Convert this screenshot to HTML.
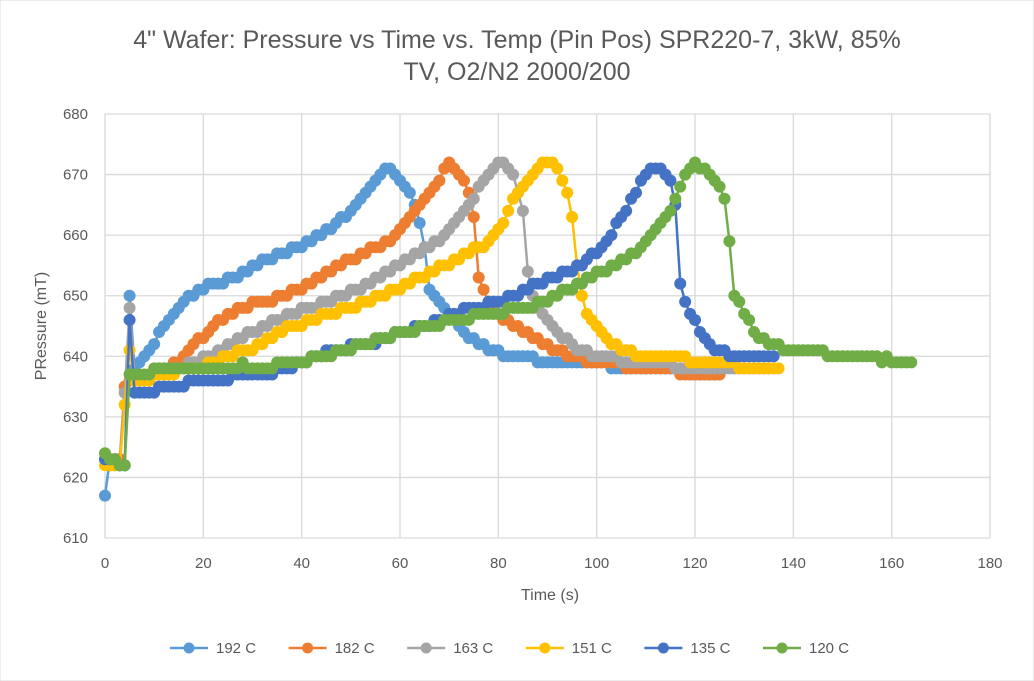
<!DOCTYPE html>
<html><head><meta charset="utf-8"><style>
html,body{margin:0;padding:0;background:#fff;}
svg{display:block;font-family:"Liberation Sans",Arial,sans-serif;}
</style></head><body>
<svg id="chart" width="1034" height="681" viewBox="0 0 1034 681" xmlns="http://www.w3.org/2000/svg">
<rect x="0" y="0" width="1034" height="681" fill="#fff" stroke="#d9d9d9"/>
<text x="517" y="48" text-anchor="middle" font-size="25" fill="#595959">4" Wafer: Pressure vs Time vs. Temp (Pin Pos) SPR220-7, 3kW, 85%</text>
<text x="517" y="80" text-anchor="middle" font-size="25" fill="#595959">TV, O2/N2 2000/200</text>
<g id="grid"></g><g id="axes"></g><g id="series"></g><g id="legend"></g>
<text x="550" y="600" text-anchor="middle" font-size="16" fill="#595959">Time (s)</text>
<text transform="translate(46,326) rotate(-90)" text-anchor="middle" font-size="16" fill="#595959">PRessure (mT)</text>
</svg>
<script>
const seriesNames = ["192 C","182 C","163 C","151 C","135 C","120 C"];
const seriesColors = ["#5B9BD5","#ED7D31","#A5A5A5","#FFC000","#4472C4","#70AD47"];
const xTicks = [0,20,40,60,80,100,120,140,160,180];
const yTicks = [610,620,630,640,650,660,670,680];
const s192 = [617,623,623,623,622,650,638,639,640,641,642,644,645,646,647,648,649,650,650,651,651,652,652,652,652,653,653,653,654,654,655,655,656,656,656,657,657,657,658,658,658,659,659,660,660,661,661,662,663,663,664,665,666,667,668,669,670,671,671,670,669,668,667,665,662,658,651,650,649,648,647,646,645,644,643,643,642,642,641,641,641,640,640,640,640,640,640,640,639,639,639,639,639,639,639,639,639,639,639,639,639,639,639,638,638,638,638,638,638,638,638,638,638,638,638,638,638,638,638,637,637,637,637,637,637];
const s182 = [623,623,623,623,635,636,636,636,637,637,637,638,638,638,639,639,640,641,642,643,643,644,645,646,646,647,647,648,648,648,649,649,649,649,649,650,650,650,651,651,651,652,652,653,653,654,654,655,655,656,656,656,657,657,658,658,658,659,659,660,661,662,663,664,665,666,667,668,669,671,672,671,670,669,667,663,653,651,649,648,647,646,646,645,645,644,644,643,643,642,642,641,641,641,640,640,640,640,639,639,639,639,639,639,639,639,638,638,638,638,638,638,638,638,638,638,638,637,637,637,637,637,637,637,637,637];
const s163 = [623,622,622,622,634,648,636,636,636,637,637,637,637,638,638,638,638,639,639,639,640,640,640,641,641,642,642,643,643,644,644,644,645,645,646,646,646,647,647,647,648,648,648,648,649,649,649,650,650,650,651,651,651,652,652,653,653,654,654,655,655,656,656,657,657,658,658,659,659,660,661,662,663,664,665,666,668,669,670,671,672,672,671,670,667,664,654,650,648,647,646,645,644,643,643,642,641,641,641,640,640,640,640,640,640,639,639,639,639,639,639,639,639,639,639,639,638,638,638,638,638,638,638,638,638,638,638,638,638,638,638,638,638,638,638,638,638];
const s151 = [622,622,622,622,632,641,636,636,636,636,637,637,637,637,637,638,638,638,638,638,638,639,639,639,640,640,640,641,641,641,641,642,642,643,643,644,644,645,645,645,645,646,646,646,647,647,647,647,648,648,648,648,649,649,649,650,650,650,651,651,651,652,652,653,653,653,654,654,655,655,655,656,656,657,657,658,658,658,659,660,661,662,664,666,667,668,669,670,671,672,672,672,671,669,667,663,655,650,647,646,645,644,643,642,642,641,641,641,640,640,640,640,640,640,640,640,640,640,640,639,639,639,639,639,639,639,639,639,639,638,638,638,638,638,638,638,638,638];
const s135 = [623,623,623,622,622,646,634,634,634,634,634,635,635,635,635,635,635,636,636,636,636,636,636,636,636,636,637,637,637,637,637,637,637,637,637,638,638,638,638,639,639,639,640,640,640,641,641,641,641,641,642,642,642,642,642,642,643,643,643,644,644,644,644,645,645,645,645,646,646,646,647,647,647,648,648,648,648,648,649,649,649,649,650,650,650,651,651,652,652,652,653,653,653,654,654,654,655,655,656,657,657,658,659,660,662,663,664,666,667,669,670,671,671,671,670,669,665,652,649,647,646,644,643,642,641,641,641,640,640,640,640,640,640,640,640,640,640];
const s120 = [624,623,623,622,622,637,637,637,637,637,638,638,638,638,638,638,638,638,638,638,638,638,638,638,638,638,638,638,639,638,638,638,638,638,638,639,639,639,639,639,639,639,640,640,640,640,640,641,641,641,641,642,642,642,642,643,643,643,643,644,644,644,644,644,645,645,645,645,645,646,646,646,646,646,646,647,647,647,647,647,647,647,648,648,648,648,648,648,649,649,649,650,650,651,651,651,652,652,653,653,654,654,654,655,655,656,656,657,657,658,659,660,661,662,663,664,666,668,670,671,672,671,671,670,669,668,666,659,650,649,647,646,644,643,643,642,642,642,641,641,641,641,641,641,641,641,641,640,640,640,640,640,640,640,640,640,640,640,639,640,639,639,639,639,639];
const allSeries = [s192,s182,s163,s151,s135,s120];

const NS = "http://www.w3.org/2000/svg";
const X0=105, X1=990, Y0=538, Y1=114;
function xScale(t){return X0+(t-0)/(180-0)*(X1-X0);}
function yScale(v){return Y0-(v-610)/(680-610)*(Y0-Y1);}
function mk(tag,attrs,parent){const e=document.createElementNS(NS,tag);for(const k in attrs)e.setAttribute(k,attrs[k]);parent.appendChild(e);return e;}
const grid=document.getElementById('grid'), axes=document.getElementById('axes'), ser=document.getElementById('series'), leg=document.getElementById('legend');
yTicks.forEach(v=>{
  const l=mk('line',{x1:X0,x2:X1,y1:yScale(v),y2:yScale(v),stroke:'#d9d9d9','stroke-width':1.3},grid);
  
  
  const t=mk('text',{x:X0-17,y:yScale(v)+5,'text-anchor':'end','font-size':15,fill:'#595959'},axes);
  t.textContent=v;
  
  
});
xTicks.forEach(v=>{
  const l=mk('line',{x1:xScale(v),x2:xScale(v),y1:Y1,y2:Y0,stroke:'#d9d9d9','stroke-width':1.3},grid);
  
  
  const t=mk('text',{x:xScale(v),y:Y0+30,'text-anchor':'middle','font-size':15,fill:'#595959'},axes);
  t.textContent=v;
  
  
});
allSeries.forEach((s,i)=>{
  const g=mk('g',{},ser);
  
  
  const pts=s.map((v,t)=>xScale(t).toFixed(1)+','+yScale(v).toFixed(1)).join(' ');
  const pl=mk('polyline',{points:pts,fill:'none',stroke:seriesColors[i],'stroke-width':2.5,'stroke-linejoin':'round'},g);
  
  
  s.forEach((v,t)=>{
    const c=mk('circle',{cx:xScale(t),cy:yScale(v),r:6,fill:seriesColors[i]},g);
    
    
  });
});
seriesNames.forEach((n,i)=>{
  const bx=170+i*118.6, y=648;
  const g=mk('g',{},leg);
  
  
  mk('line',{x1:bx,x2:bx+38,y1:y,y2:y,stroke:seriesColors[i],'stroke-width':2.5},g);
  mk('circle',{cx:bx+19,cy:y,r:5.5,fill:seriesColors[i]},g);
  const t=mk('text',{x:bx+46,y:y+5,'font-size':15,fill:'#595959'},g);
  t.textContent=n;
});
</script>
</body></html>
